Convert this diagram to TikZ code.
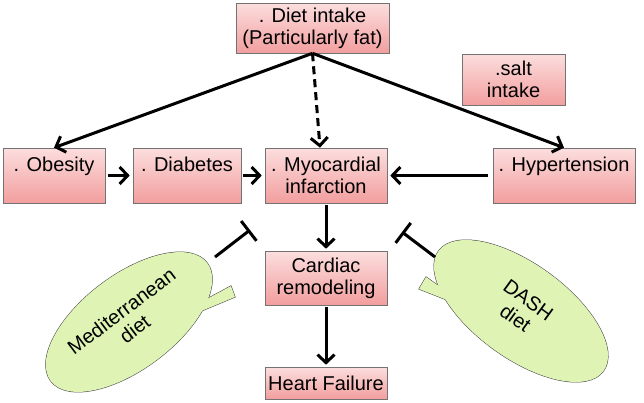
\documentclass[tikz,border=0pt]{standalone}
\usepackage{fontspec}
\setmainfont{Liberation Sans}
\usetikzlibrary{arrows.meta}
\definecolor{boxtop}{RGB}{252,222,222}
\definecolor{boxbot}{RGB}{242,158,158}
\definecolor{leaf}{RGB}{222,243,180}
\begin{document}
\begin{tikzpicture}[x=1pt,y=1pt,
  box/.style={draw=black!55, line width=0.6pt, top color=boxtop, bottom color=boxbot,
    inner sep=0pt, align=center, font=\fontsize{20}{22}\selectfont},
  arr/.style={line width=3pt, -{Straight Barb[length=8pt,width=17pt]}},
  inhib/.style={line width=3pt, -{Bar[width=25pt]}},
  balloon/.style={draw=black!75, line width=1pt, fill=leaf},
  balloontxt/.style={align=center, font=\fontsize{20}{22}\selectfont}]
\useasboundingbox (0,0) rectangle (644,-402);
% boxes
\node[box, minimum width=153pt, minimum height=50pt] (diet) at (312.5,-28) {. Diet intake\\(Particularly fat)};
\node[box, minimum width=103pt, minimum height=51pt] (salt) at (513.5,-79.5) {.salt\\intake};
\node[box, minimum width=102pt, minimum height=55pt] (obes) at (54,-175.5) {. Obesity\\~};
\node[box, minimum width=108pt, minimum height=55pt] (diab) at (187,-175.5) {. Diabetes\\~};
\node[box, minimum width=122pt, minimum height=55pt] (mi) at (326,-175.5) {. Myocardial\\infarction};
\node[box, minimum width=142pt, minimum height=55pt] (hyp) at (564,-175.5) {. Hypertension\\~};
\node[box, minimum width=122pt, minimum height=54pt] (remod) at (326,-278) {Cardiac\\remodeling};
\node[box, minimum width=122pt, minimum height=32pt] (hf) at (326,-383) {Heart Failure};
% diet balloons
\path[balloon, rotate around={37:(129,-322)}] (129,-322) ellipse (98 and 47);
\path[balloon] (205,-300) -- (231,-286) -- (235,-297) -- (199,-312) -- cycle;
\fill[leaf, rotate around={37:(129,-322)}] (129,-322) ellipse (98 and 47);
\fill[leaf] (205,-300) -- (231,-286) -- (235,-297) -- (199,-312) -- cycle;
\path[balloon, rotate around={-36:(521,-311)}] (521,-311) ellipse (102 and 47);
\path[balloon] (446,-291) -- (426,-277) -- (419,-289) -- (452,-302) -- cycle;
\fill[leaf, rotate around={-36:(521,-311)}] (521,-311) ellipse (102 and 47);
\fill[leaf] (446,-291) -- (426,-277) -- (419,-289) -- (452,-302) -- cycle;
\node[balloontxt, rotate=37] (medtxt) at (128,-320) {Mediterranean\\diet};
\node[balloontxt, rotate=-36] (dashtxt) at (522,-309) {DASH\\diet};
% arrows
\draw[arr] (diet.south) -- (obes.north);
\draw[arr] (diet.south) -- (hyp.north);
\draw[arr, dash pattern=on 8pt off 5pt] (diet.south) -- ([xshift=-6pt]mi.north);
\draw[arr, shorten <=3pt, shorten >=3pt] (obes) -- (diab);
\draw[arr, shorten <=2pt, shorten >=3pt] (diab) -- (mi);
\draw[arr, shorten <=5pt, shorten >=3pt] (hyp) -- (mi);
\draw[arr, shorten <=2pt, shorten >=2pt] (mi) -- (remod);
\draw[arr, shorten <=2pt, shorten >=2pt] (remod) -- (hf);
% inhibition
\coordinate (medT0) at (215,-257);
\coordinate (medT1) at (250,-230);
\coordinate (dashT0) at (435,-257);
\coordinate (dashT1) at (402,-232);
\draw[inhib] (medT0) -- (medT1);
\draw[inhib] (dashT0) -- (dashT1);
\end{tikzpicture}
\end{document}
